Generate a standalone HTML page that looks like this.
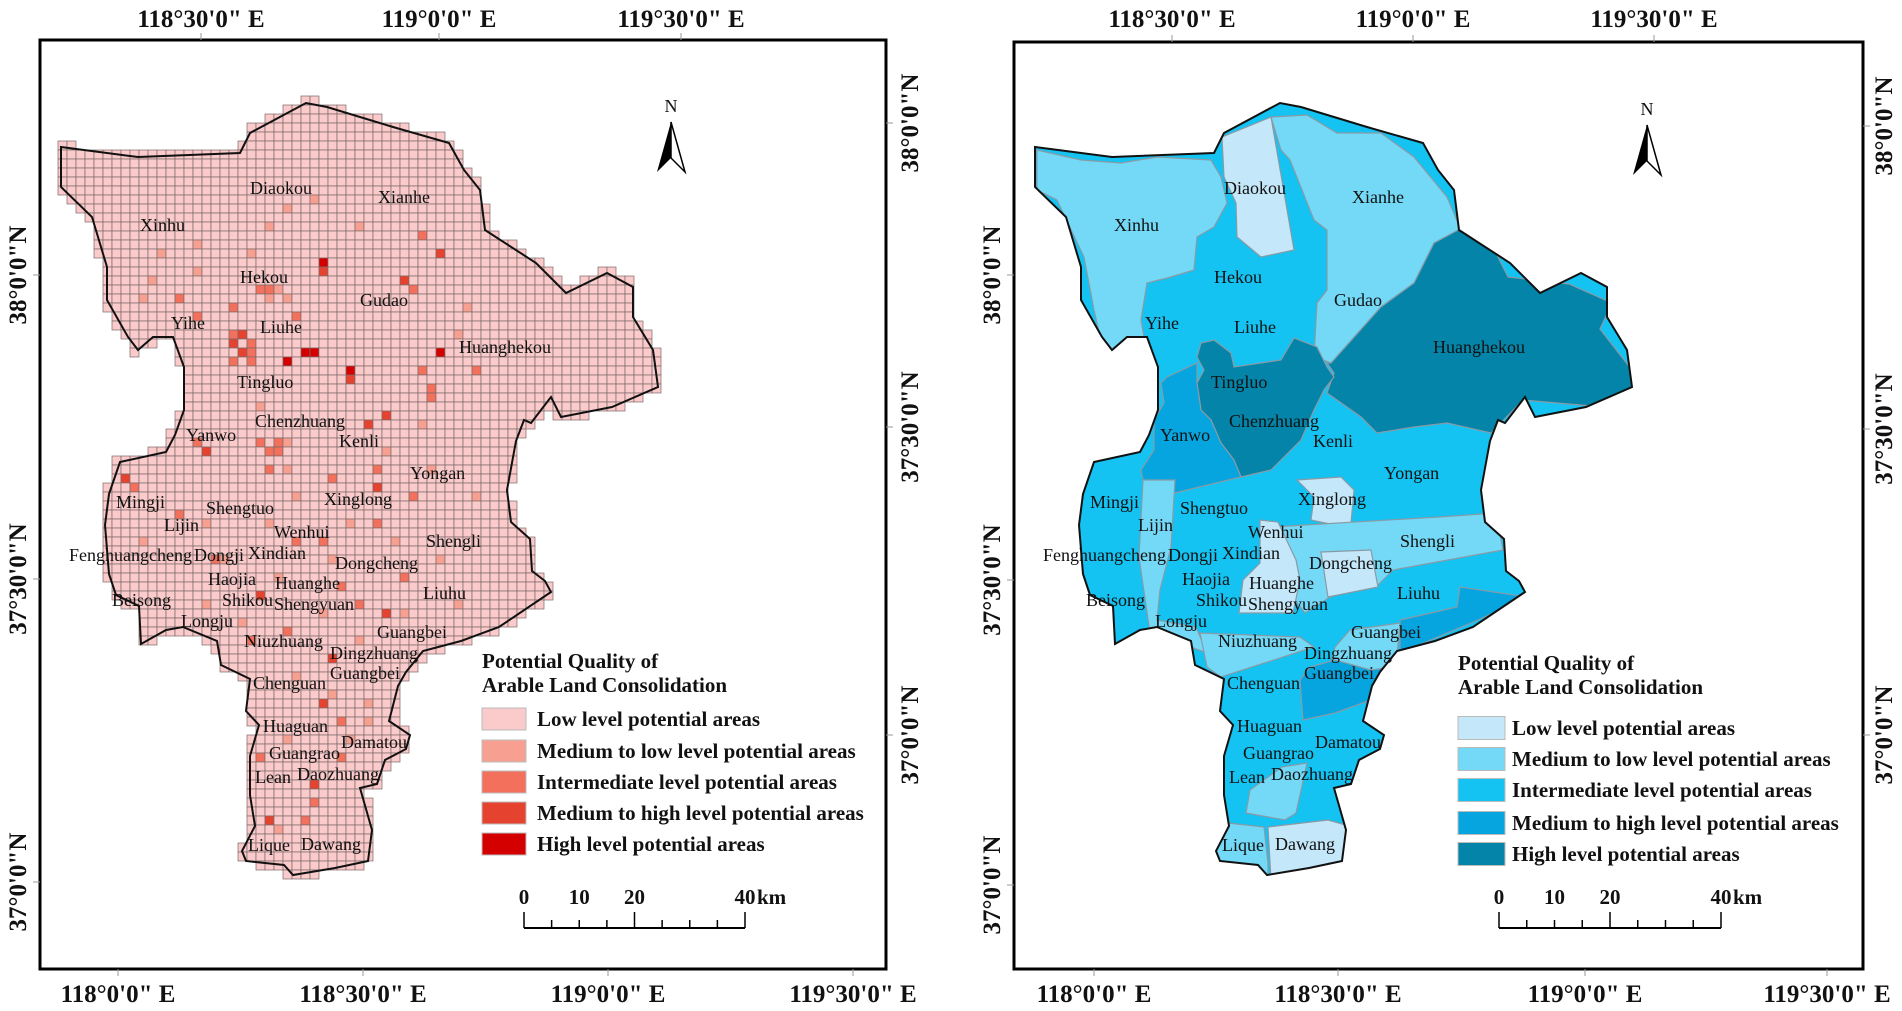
<!DOCTYPE html>
<html><head><meta charset="utf-8">
<style>
html,body{margin:0;padding:0;background:#fff;}
svg{display:block;}
text{font-family:"Liberation Serif",serif;}
.ax{font-size:25px;font-weight:bold;fill:#111;}
.lbl{font-size:18px;fill:#111;}
.lg{font-size:21px;font-weight:bold;fill:#111;}
</style></head>
<body>
<svg id="fig" width="1902" height="1011" viewBox="0 0 1902 1011" xmlns="http://www.w3.org/2000/svg">
<rect width="1902" height="1011" fill="#fff"/>
<g id="left"></g>
<g id="right"></g>
</svg>
<script>
const NS="http://www.w3.org/2000/svg";
// map outline (left panel pixel coordinates)
const outline=[[61,147],[138,157],[240,153],[245,143],[250,133],[306,103],[327,107],[393,127],[449,143],[464,170],[480,190],[485,230],[536,263],[566,293],[607,273],[633,287],[633,317],[653,350],[658,387],[612,407],[561,417],[551,397],[541,410],[531,423],[524,420],[516,441],[507,490],[511,522],[530,539],[532,571],[545,581],[551,592],[499,627],[461,641],[423,651],[406,672],[398,686],[389,721],[410,735],[406,749],[385,760],[377,784],[360,788],[372,830],[368,861],[335,868],[293,875],[284,865],[246,861],[242,851],[255,826],[250,795],[250,756],[259,725],[246,711],[250,679],[221,665],[217,641],[183,627],[166,630],[141,644],[139,606],[116,595],[109,574],[105,525],[109,494],[120,462],[166,452],[175,435],[184,410],[184,367],[173,337],[153,337],[138,350],[128,337],[107,300],[107,267],[92,217],[61,187]];
const hotX=[327,327,309,290,310,350,353,347,441,407,417,235,245,255,235,245,255,235,248,262,272,282,270,423,427,433,367,388,207,197,263,275,285,265,278,270,283,377,377,417,128,124,137,389,259,330,314,267,362,423,194,153,444,180,200,230,290,300,260,330,350,380,175,145,215,270,300,330,360,400,250,290,320,345,230,260,290,315,280,305,340,365,210,225,300,320,395,455,470,480,200,160,140,120,210,240,280,320,340,360,400,440,460,480,300,330,350,370,420,390,430,270,290,310,250];
const hotY=[263,273,355,357,355,370,380,382,352,282,290,335,335,340,345,350,350,360,362,285,285,285,295,367,387,397,420,417,450,443,438,440,445,452,455,465,465,483,473,500,477,476,490,611,593,655,781,819,225,233,245,277,253,300,320,310,300,320,410,480,520,520,510,540,560,520,540,560,600,580,640,630,700,720,700,760,740,800,830,820,760,720,520,560,500,540,540,330,310,370,270,250,300,410,600,620,580,610,590,640,610,560,600,500,680,690,740,700,420,450,470,230,210,200,250];
const hotL=[4,3,4,4,4,4,3,3,4,3,2,2,3,2,3,3,2,2,2,2,2,1,1,2,2,2,3,3,3,2,2,2,1,2,2,2,1,3,2,2,3,3,2,3,3,3,3,3,1,2,1,1,3,2,2,2,1,2,1,2,1,2,2,1,2,1,2,1,2,2,2,2,3,2,2,2,1,2,1,2,2,1,1,1,1,2,1,1,1,2,1,1,1,1,1,1,1,1,2,1,1,1,1,1,1,1,1,1,1,1,1,1,1,1,1];
const redCols=["#fbcaca","#f7a091","#f2705c","#e5432f","#d40000"];
const blueCols=["#c4e7f9","#73d9f7","#14c3f2","#07a5df","#0484a8"];
// township regions (right map pixel coords) with class 0..4
const regions=[
 {n:"xinhu",c:1,p:[[1037,150],[1081,160],[1121,163],[1157,157],[1211,160],[1221,177],[1227,203],[1214,227],[1197,237],[1194,270],[1171,277],[1147,283],[1141,320],[1144,337],[1127,340],[1114,353],[1104,353],[1094,310],[1084,257],[1057,200],[1037,190]]},
 {n:"diaokou",c:0,p:[[1222,137],[1271,117],[1294,250],[1261,257],[1237,237],[1236,203],[1224,177]]},
 {n:"xianhe",c:1,p:[[1271,117],[1307,115],[1337,133],[1381,133],[1414,157],[1447,197],[1461,230],[1434,243],[1414,283],[1381,307],[1331,363],[1314,357],[1317,303],[1327,290],[1327,230],[1314,220],[1290,160],[1281,150]]},
 {n:"huanghekou",c:4,p:[[1460,229],[1492,245],[1508,277],[1569,284],[1612,303],[1600,329],[1635,374],[1631,394],[1592,406],[1523,400],[1491,433],[1447,423],[1414,427],[1377,433],[1361,417],[1327,393],[1334,373],[1327,363],[1331,363],[1381,307],[1414,283],[1434,243]]},
 {n:"tingluo-chenzhuang",c:4,p:[[1201,343],[1214,340],[1231,353],[1234,367],[1281,360],[1294,338],[1317,347],[1327,367],[1334,377],[1324,390],[1314,410],[1301,440],[1271,470],[1241,477],[1234,460],[1221,443],[1211,420],[1201,410],[1197,383],[1204,370],[1197,357]]},
 {n:"yanwo",c:3,p:[[1167,377],[1197,363],[1197,383],[1201,410],[1211,420],[1221,443],[1234,460],[1241,477],[1187,490],[1147,500],[1141,470],[1154,450],[1154,420],[1164,403],[1161,383]]},
 {n:"xinglong",c:0,p:[[1297,480],[1341,477],[1354,490],[1351,523],[1344,527],[1311,520],[1314,497]]},
 {n:"shengli",c:1,p:[[1271,527],[1439,517],[1496,513],[1503,550],[1393,570],[1378,585],[1330,597],[1305,613],[1295,600],[1290,560]]},
 {n:"lijin",c:1,p:[[1143,480],[1175,480],[1171,547],[1160,590],[1157,620],[1196,627],[1207,653],[1185,645],[1150,633],[1139,557]]},
 {n:"wenhui-huanghe",c:0,p:[[1260,520],[1278,522],[1296,560],[1300,580],[1293,613],[1239,613],[1243,580],[1260,563]]},
 {n:"dongcheng",c:0,p:[[1321,552],[1371,550],[1378,587],[1328,597]]},
 {n:"niuzhuang",c:1,p:[[1200,633],[1300,637],[1314,647],[1221,677],[1207,667]]},
 {n:"coast-strip",c:3,p:[[1400,620],[1457,607],[1460,587],[1528,597],[1478,620],[1400,653]]},
 {n:"guangbei",c:1,p:[[1350,630],[1400,623],[1396,667],[1371,680],[1328,673],[1335,647]]},
 {n:"dingzhuang",c:3,p:[[1371,670],[1393,667],[1390,690],[1371,700],[1335,713],[1303,720],[1300,680],[1310,667],[1335,660]]},
 {n:"daozhuang",c:1,p:[[1250,790],[1282,767],[1307,763],[1296,813],[1285,820],[1246,813]]},
 {n:"lique",c:1,p:[[1214,840],[1228,823],[1264,827],[1268,863],[1268,880],[1218,880]]},
 {n:"dawang",c:0,p:[[1268,827],[1328,820],[1353,827],[1346,863],[1350,880],[1271,880]]}
];
const names=["Diaokou","Xianhe","Xinhu","Hekou","Gudao","Yihe","Liuhe","Huanghekou","Tingluo","Chenzhuang","Kenli","Yanwo","Yongan","Xinglong","Mingji","Shengtuo","Lijin","Wenhui","Shengli","Fenghuangcheng","Dongji","Xindian","Dongcheng","Haojia","Huanghe","Liuhu","Beisong","Shikou","Shengyuan","Longju","Guangbei","Niuzhuang","Dingzhuang","Guangbei","Chenguan","Huaguan","Damatou","Guangrao","Lean","Daozhuang","Lique","Dawang"];
const nameX=[250,378,140,240,360,171,260,459,237,255,339,186,410,324,116,206,164,274,426,69,194,248,335,208,275,423,112,222,274,181,377,244,330,330,253,263,341,269,255,297,248,301];
const nameY=[188,197,225,277,300,323,327,347,382,421,441,435,473,499,502,508,525,532,541,555,555,553,563,579,583,593,600,600,604,621,632,641,653,673,683,726,742,753,777,774,845,844];
const legendLabels=["Low level potential areas","Medium to low level potential areas","Intermediate level potential areas","Medium to high level potential areas","High level potential areas"];
const scaleTicks=[0,10,20,40];

function mk(tag,attrs,parent){const e=document.createElementNS(NS,tag);for(const k in attrs)e.setAttribute(k,attrs[k]);parent.appendChild(e);return e;}
function txt(parent,x,y,s,cls,extra){const t=mk("text",Object.assign({x:x,y:y,class:cls},extra||{}),parent);t.textContent=s;return t;}
function inside(x,y,poly){let c=false;for(let i=0,j=poly.length-1;i<poly.length;j=i++){const xi=poly[i][0],yi=poly[i][1],xj=poly[j][0],yj=poly[j][1];if(((yi>y)!=(yj>y))&&(x<(xj-xi)*(y-yi)/(yj-yi)+xi))c=!c;}return c;}
const pstr=(p,dx)=>p.map(q=>(q[0]+dx)+","+q[1]).join(" ");

function frame(g,x0,y0,x1,y1,top,topX,bottom,botX,leftL,leftY,rightL,rightY,lx,rx){
  const f=mk("rect",{x:x0,y:y0,width:x1-x0,height:y1-y0,fill:"none",stroke:"#000","stroke-width":3},g);
  
  top.forEach((s,i)=>{mk("line",{x1:topX[i],x2:topX[i],y1:y0-7,y2:y0,stroke:"#999"},g);
    const t=txt(g,topX[i],27,s,"ax",{"text-anchor":"middle"});});
  bottom.forEach((s,i)=>{mk("line",{x1:botX[i],x2:botX[i],y1:y1,y2:y1+7,stroke:"#999"},g);
    const t=txt(g,botX[i],1002,s,"ax",{"text-anchor":"middle"});});
  leftL.forEach((s,i)=>{mk("line",{x1:x0-7,x2:x0,y1:leftY[i],y2:leftY[i],stroke:"#999"},g);
    const t=txt(g,0,0,s,"ax",{"text-anchor":"middle",transform:`translate(${lx},${leftY[i]}) rotate(-90)`});});
  rightL.forEach((s,i)=>{mk("line",{x1:x1,x2:x1+7,y1:rightY[i],y2:rightY[i],stroke:"#999"},g);
    const t=txt(g,0,0,s,"ax",{"text-anchor":"middle",transform:`translate(${rx},${rightY[i]}) rotate(-90)`});});
}
function north(g,cx,ny){
  const n=txt(g,cx,ny,"N","lbl",{"text-anchor":"middle","font-size":"18"});
  const a=mk("g",{},g);
  mk("polygon",{points:`${cx},${ny+10} ${cx-14},${ny+60} ${cx},${ny+46}`,fill:"#000"},a);
  mk("polygon",{points:`${cx},${ny+10} ${cx+14},${ny+60} ${cx},${ny+46}`,fill:"#fff",stroke:"#000","stroke-width":1.5},a);
}
function legend(g,x,ty,cols,rowY,sw,sh,tx,scaleX0,scaleX1,scaleY){
  const lg=mk("g",{},g);
  txt(lg,x,ty,"Potential Quality of","lg");txt(lg,x,ty+24,"Arable Land Consolidation","lg");
  legendLabels.forEach((s,i)=>{const r=mk("rect",{x:x,y:rowY[i]-sh/2,width:sw,height:sh,fill:cols[i],stroke:"#bbb"},lg);
    
    const t=txt(lg,tx,rowY[i]+7,s,"lg");});
  const sb=mk("g",{},g);
  const k=(scaleX1-scaleX0)/40;
  mk("line",{x1:scaleX0,x2:scaleX1,y1:scaleY+16,y2:scaleY+16,stroke:"#000","stroke-width":2},sb);
  for(let d=0;d<=40;d+=5){const big=(d%20==0);mk("line",{x1:scaleX0+d*k,x2:scaleX0+d*k,y1:scaleY+(big?0:8),y2:scaleY+16,stroke:"#000","stroke-width":1.5},sb);}
  scaleTicks.forEach(v=>{txt(sb,scaleX0+v*k,scaleY-8,String(v),"lg",{"text-anchor":"middle"});});
  txt(sb,scaleX1+12,scaleY-8,"km","lg");
}
function labels(g,dx){
  names.forEach((s,i)=>{const t=txt(g,nameX[i]+dx,nameY[i]+6,s,"lbl");});
}

// ---------- LEFT PANEL ----------
const L=document.getElementById("left");
const cell=9,gx0=40,gy0=96;
const cg=mk("g",{},L);
const lvl={};
hotX.forEach((x,i)=>{const c=Math.floor((x-gx0)/cell),r=Math.floor((hotY[i]-gy0)/cell);const key=c+"_"+r;lvl[key]=Math.max(lvl[key]||0,hotL[i]);});
for(let r=0;r<92;r++)for(let c=0;c<72;c++){
  const x=gx0+c*cell,y=gy0+r*cell;
  const pts=[[x+1,y+1],[x+cell-1,y+1],[x+1,y+cell-1],[x+cell-1,y+cell-1],[x+cell/2,y+cell/2]];
  if(!pts.some(p=>inside(p[0],p[1],outline)))continue;
  const l=lvl[c+"_"+r]||0;
  mk("rect",{x:x,y:y,width:cell,height:cell,fill:redCols[l],stroke:"#7a6a6a","stroke-width":0.7},cg);
}
const lo=mk("polygon",{points:pstr(outline,0),fill:"none",stroke:"#111","stroke-width":2},L);

labels(L,0);
frame(L,40,40,886,969,["118°30'0\" E","119°0'0\" E","119°30'0\" E"],[201,439,681],
 ["118°0'0\" E","118°30'0\" E","119°0'0\" E","119°30'0\" E"],[118,363,608,853],
 ["38°0'0\"N","37°30'0\"N","37°0'0\"N"],[275,579,882],["38°0'0\"N","37°30'0\"N","37°0'0\"N"],[123,427,735],26,918);
north(L,671,112);
legend(L,482,668,redCols,[719,751,782,813,844],44,22,537,524,745,912);

// ---------- RIGHT PANEL ----------
const R=document.getElementById("right");
const dx=974;
const ro=mk("polygon",{points:pstr(outline,dx),fill:blueCols[2],stroke:"none"},R);

const cp=mk("clipPath",{id:"rc"},R);mk("polygon",{points:pstr(outline,dx)},cp);
const rg=mk("g",{"clip-path":"url(#rc)"},R);
regions.forEach(rr=>{const p=mk("polygon",{points:pstr(rr.p,0),fill:blueCols[rr.c],stroke:"#8a9aa5","stroke-width":1.2},rg);
  });
const ro2=mk("polygon",{points:pstr(outline,dx),fill:"none",stroke:"#111","stroke-width":2},R);

labels(R,dx);
frame(R,1014,42,1863,969,["118°30'0\" E","119°0'0\" E","119°30'0\" E"],[1172,1413,1654],
 ["118°0'0\" E","118°30'0\" E","119°0'0\" E","119°30'0\" E"],[1094,1338,1585,1827],
 ["38°0'0\"N","37°30'0\"N","37°0'0\"N"],[275,580,885],["38°0'0\"N","37°30'0\"N","37°0'0\"N"],[126,429,735],1000,1892);
north(R,1647,115);
legend(R,1458,670,blueCols,[728,759,790,823,854],47,23,1512,1499,1721,912);
</script>
</body></html>
